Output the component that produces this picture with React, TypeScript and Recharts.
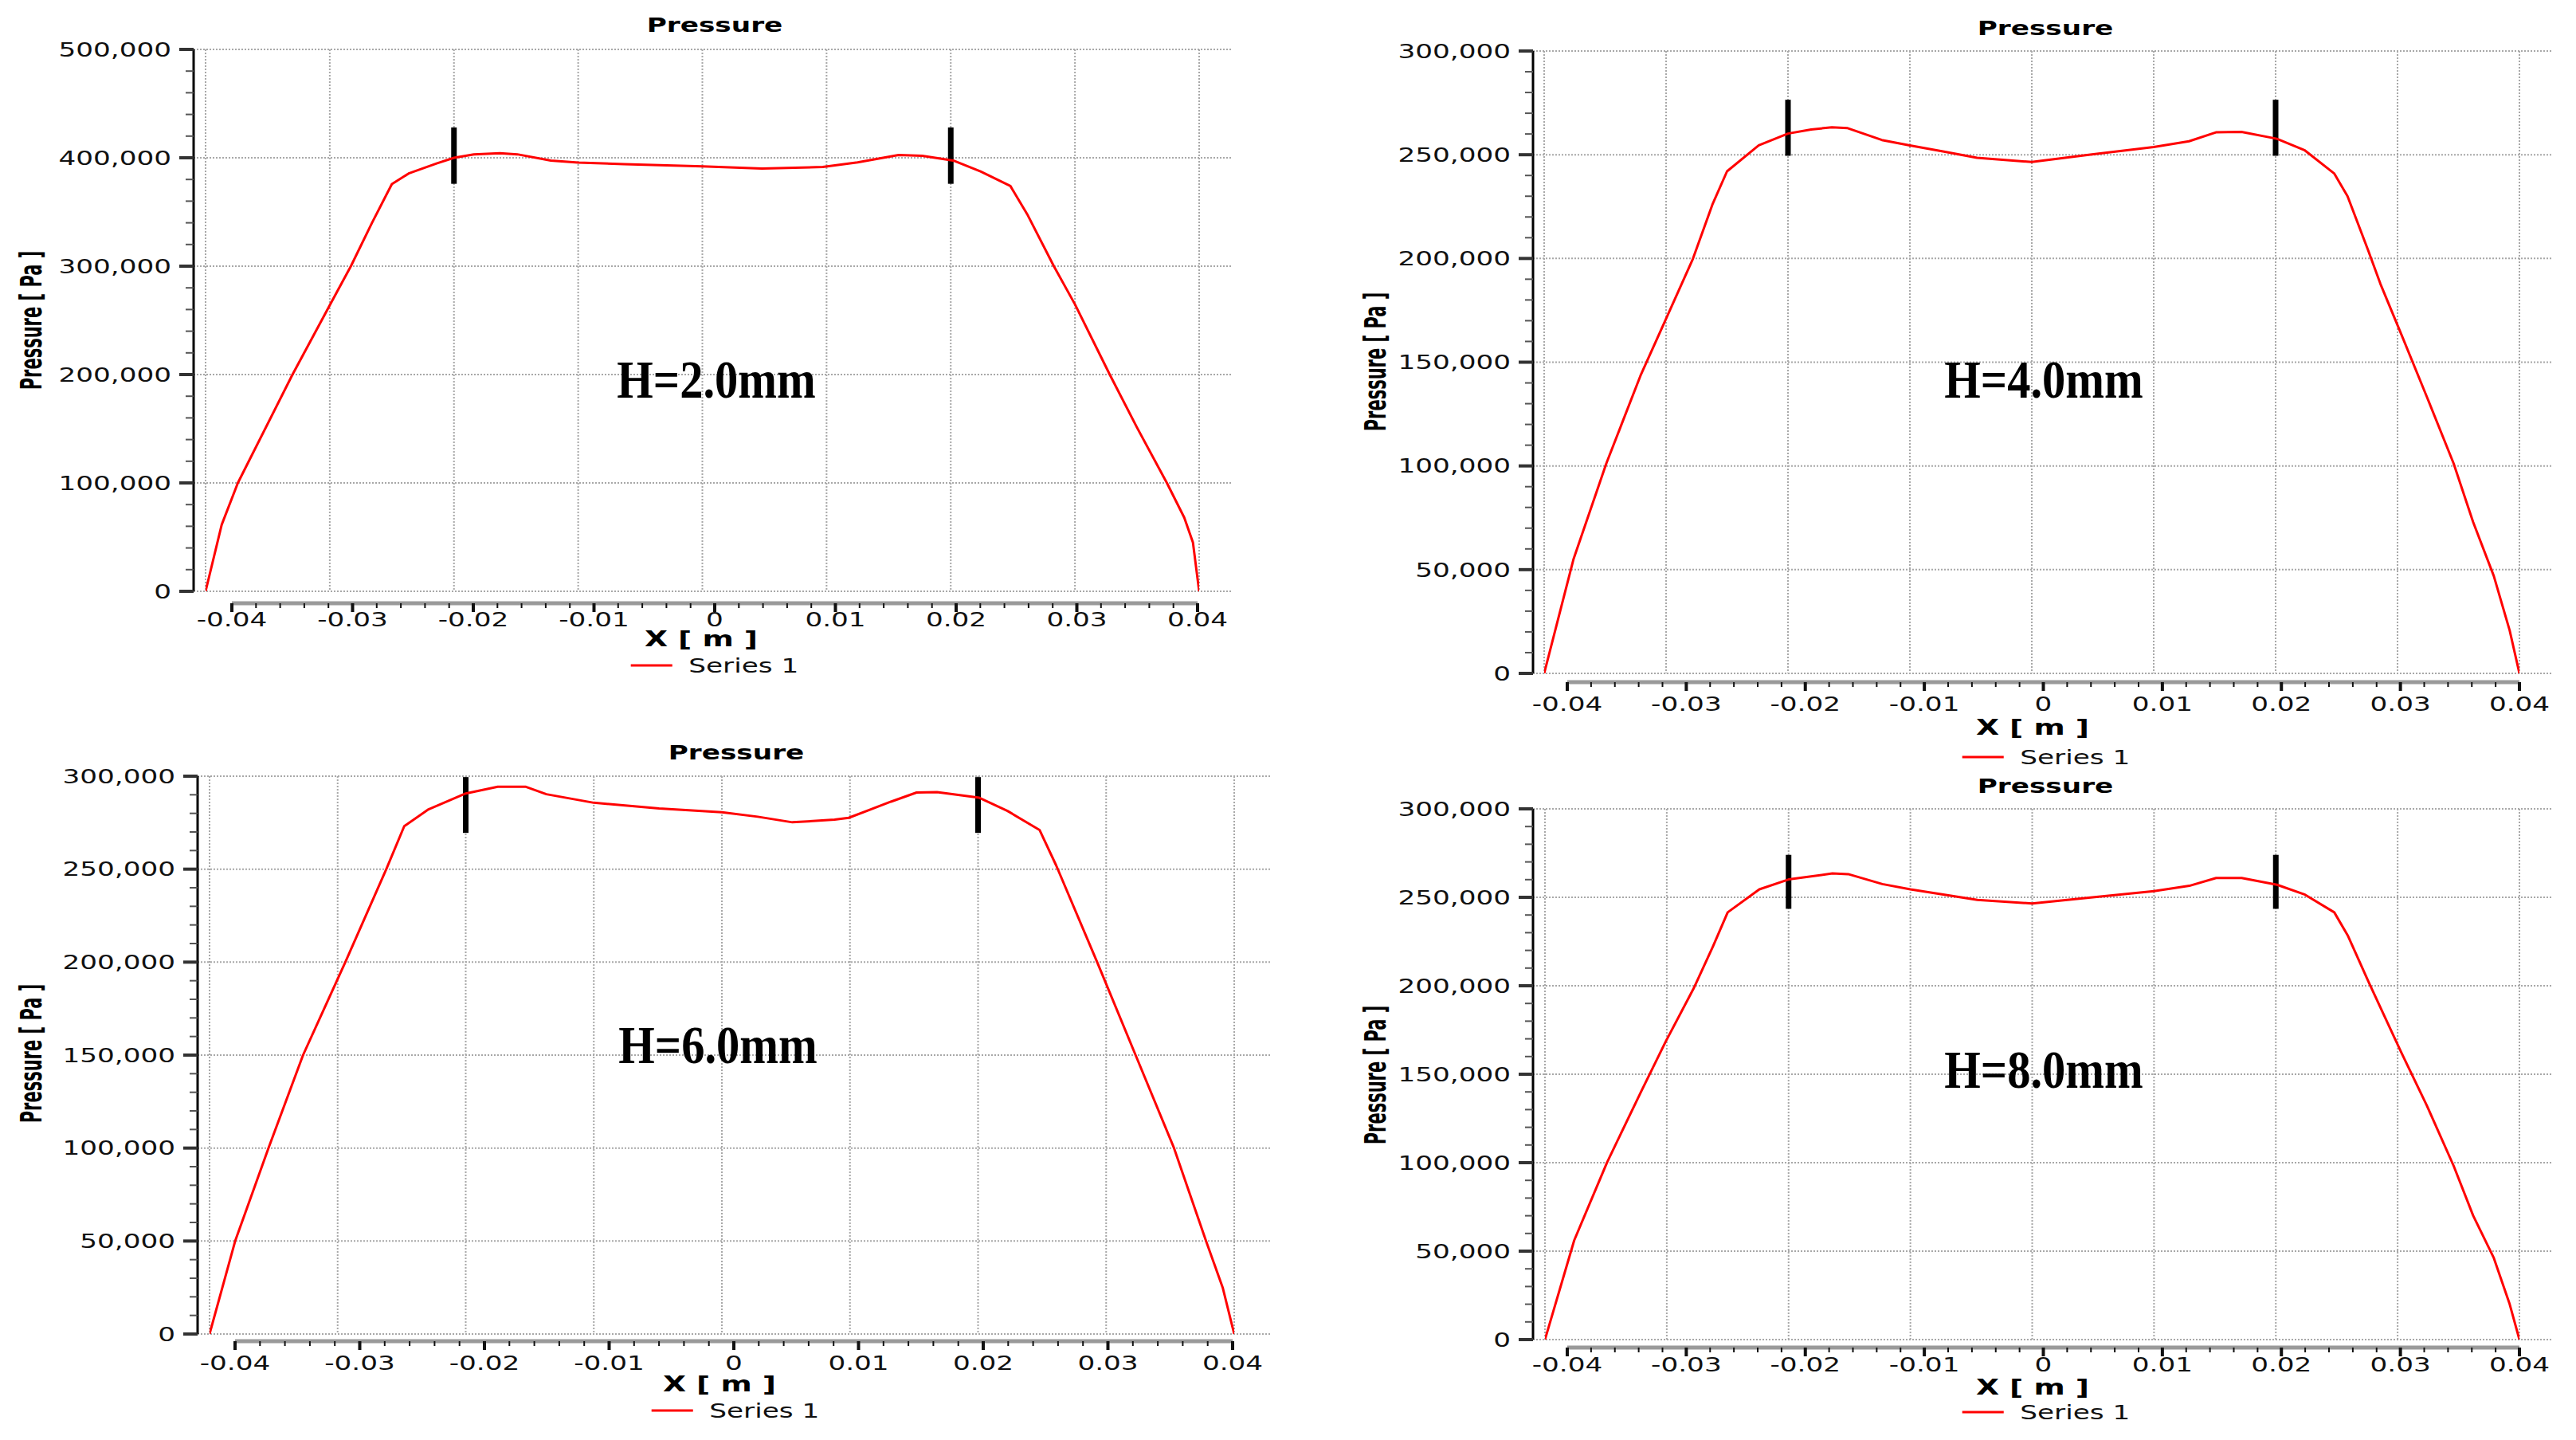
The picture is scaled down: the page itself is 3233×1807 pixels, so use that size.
import React from "react";
import { LineChart, Line, XAxis, YAxis, CartesianGrid, ReferenceLine, Legend } from "recharts";

const FONT = "'DejaVu Sans', Verdana, sans-serif";
// the source picture is stretched sideways, so the text is too
const SX = 1.37;

// x position [m] and pressure [Pa]
const xH2 = [-0.04, -0.0387, -0.0374, -0.033, -0.03, -0.0283, -0.0266, -0.025, -0.0236, -0.0214, -0.02, -0.0184, -0.0163, -0.0149, -0.0122, -0.01, -0.0063, 0, 0.0048, 0.0097, 0.0125, 0.0158, 0.0177, 0.0202, 0.0224, 0.0248, 0.0262, 0.0283, 0.03, 0.0328, 0.035, 0.0374, 0.0388, 0.0395, 0.04];
const pH2 = [0, 61500, 100000, 200000, 264000, 300000, 340000, 375700, 385800, 394800, 400000, 403200, 404200, 403200, 397500, 395500, 394200, 392100, 390100, 391500, 395800, 402600, 401900, 397500, 387400, 374000, 347000, 300000, 264800, 200000, 151000, 100000, 68000, 45000, 0];

const xH4 = [-0.04, -0.0376, -0.0349, -0.0321, -0.0301, -0.0278, -0.0262, -0.025, -0.0224, -0.02, -0.0181, -0.0164, -0.0151, -0.0123, -0.01, -0.0072, -0.0045, 0, 0.0048, 0.01, 0.0129, 0.0151, 0.0172, 0.0201, 0.0224, 0.0248, 0.0259, 0.0276, 0.0286, 0.0303, 0.0324, 0.0346, 0.0362, 0.0379, 0.0392, 0.04];
const pH4 = [0, 54900, 101200, 143500, 169600, 199800, 226000, 242000, 254500, 260200, 262200, 263200, 262800, 257100, 254500, 251500, 248500, 246500, 250100, 253700, 256500, 260800, 261000, 257700, 252100, 241000, 230000, 203800, 187700, 163600, 133400, 101200, 73000, 46900, 20700, 0];

const xH6 = [-0.04, -0.038, -0.0354, -0.0327, -0.0294, -0.0262, -0.0248, -0.0229, -0.02, -0.0175, -0.0153, -0.0137, -0.01, -0.0049, 0, 0.0028, 0.0055, 0.0088, 0.0099, 0.0132, 0.0152, 0.0168, 0.0201, 0.0223, 0.0248, 0.0261, 0.0293, 0.0323, 0.0353, 0.0378, 0.0391, 0.04];
const pH6 = [0, 50000, 100000, 150000, 200000, 250000, 273100, 282200, 290700, 294300, 294300, 290300, 285700, 282600, 280600, 278200, 275200, 276600, 277600, 286300, 291200, 291400, 288400, 281300, 271100, 252000, 200000, 150000, 100000, 50000, 25000, 0];

const xH8 = [-0.04, -0.0376, -0.0349, -0.0321, -0.0301, -0.0278, -0.0262, -0.025, -0.0224, -0.02, -0.0164, -0.0151, -0.0123, -0.01, -0.0045, 0, 0.0048, 0.01, 0.0129, 0.0151, 0.0172, 0.0201, 0.0224, 0.0248, 0.0259, 0.0276, 0.0303, 0.0324, 0.0346, 0.0362, 0.0379, 0.0392, 0.04];
const pH8 = [0, 56100, 100200, 140300, 168300, 198400, 222400, 241500, 254500, 260100, 263500, 263100, 257500, 254500, 248500, 246500, 249900, 253500, 256500, 260900, 260900, 257100, 251500, 241500, 228500, 202400, 162300, 132300, 98200, 70100, 46100, 20000, 0];

// axis ticks
const xMajor = [-0.04, -0.03, -0.02, -0.01, 0, 0.01, 0.02, 0.03, 0.04];
const yMajor500 = [0, 100000, 200000, 300000, 400000, 500000];
const yMajor300 = [0, 50000, 100000, 150000, 200000, 250000, 300000];

// black bars drawn over the curves at x = +/-0.02
const markerX = [-0.02, 0.02];
const barH2 = [376000, 428000];
const barH4 = [249500, 276500];
const barH6 = [269500, 299500];
const barH8 = [243500, 274000];

const subdivide = (major: number[], n: number) => {
  const out: number[] = [major[0]];
  for (let i = 1; i < major.length; i++) {
    for (let k = 1; k <= n; k++) {
      const v = major[i - 1] + ((major[i] - major[i - 1]) * k) / n;
      out.push(Math.round(v * 1e7) / 1e7);
    }
  }
  return out;
};

const isMajor = (majors: number[], v: number) => majors.some((m) => Math.abs(m - v) < Math.abs(m) * 1e-6 + 1e-9);

const YTick = (props: any) => {
  const { x, y, payload, majors } = props;
  const major = isMajor(majors, payload.value);
  return (
    <g>
      <line x1={x - (major ? 18 : 10)} x2={x} y1={y} y2={y} stroke={major ? "#333" : "#555"} strokeWidth={major ? 4 : 2} />
      {major && (
        <text transform={`translate(${x - 28},${y}) scale(${SX},1)`} textAnchor="end" dominantBaseline="central" fontSize={25} fontFamily={FONT} fill="#111">
          {payload.value.toLocaleString("en-US")}
        </text>
      )}
    </g>
  );
};

const XTick = (props: any) => {
  const { x, y, payload, labelDy } = props;
  const major = isMajor(xMajor, payload.value);
  return (
    <g>
      <line x1={x} x2={x} y1={y} y2={y + (major ? 11 : 6)} stroke="#111" strokeWidth={major ? 4 : 2} />
      {major && (
        <text transform={`translate(${x},${y + labelDy}) scale(${SX},1)`} textAnchor="middle" dominantBaseline="central" fontSize={25} fontFamily={FONT} fill="#111">
          {String(Number(payload.value.toFixed(2)))}
        </text>
      )}
    </g>
  );
};

const Txt = ({ at, style, children }: any) => (
  <div
    style={{
      position: "absolute",
      left: at[0],
      top: at[1],
      lineHeight: 1,
      whiteSpace: "nowrap",
      transform: `translate(-50%, -50%) ${style.extra || ""}`,
      fontFamily: style.fontFamily || FONT,
      fontSize: style.fontSize,
      fontWeight: style.fontWeight || "normal",
      color: "#000",
    }}
  >
    {children}
  </div>
);

type Spec = {
  xs: number[];
  ps: number[];
  yMajor: number[];
  bar: number[];
  note: string;
  box: number[];
  plotL: number;
  plotR: number;
  plotT: number;
  plotB: number;
  gridL: number;
  gridR: number;
  tickL: number;
  tickR: number;
  axisY: number;
  labelDy: number;
  titleAt: number[];
  xTitleAt: number[];
  legendAt: number[];
  yTitleAt: number[];
  noteAt: number[];
};

const AXIS_H = 40;

const Panel = ({ s }: { s: Spec }) => {
  const [bx, by, w, h] = s.box;
  const rows = s.xs.map((x, i) => ({ x, p: s.ps[i] }));
  const yMax = s.yMajor[s.yMajor.length - 1];
  const yAll = subdivide(s.yMajor, 5);
  const xAll = subdivide(xMajor, 5);
  const dash = `0 ${s.tickL - s.plotL} ${s.tickR - s.tickL} 99999`;

  const legendContent = (props: any) => {
    const item = (props.payload || [])[0];
    if (!item) return null;
    return (
      <div style={{ position: "relative", height: 32 }}>
        <div
          style={{
            position: "absolute",
            left: s.legendAt[0] - bx,
            top: 16,
            transform: `translate(-50%, -50%) scaleX(${SX})`,
            display: "flex",
            alignItems: "center",
            whiteSpace: "nowrap",
          }}
        >
          <span style={{ display: "inline-block", width: 38, height: 3, background: item.color, marginRight: 15 }} />
          <span style={{ fontFamily: FONT, fontSize: 25, color: "#111", lineHeight: 1 }}>{item.value}</span>
        </div>
      </div>
    );
  };

  return (
    <>
      <div style={{ position: "absolute", left: bx, top: by }}>
        <LineChart
          width={w}
          height={h}
          data={rows}
          margin={{ top: s.plotT - by, right: bx + w - s.plotR, bottom: by + h - s.axisY - AXIS_H, left: 0 }}
        >
          <CartesianGrid
            xAxisId="data"
            yAxisId="p"
            verticalValues={xMajor}
            horizontalValues={s.yMajor}
            syncWithTicks
            stroke="#a8a8a8"
            strokeWidth={2}
            strokeDasharray="2 2"
          />
          <XAxis
            xAxisId="data"
            dataKey="x"
            type="number"
            domain={[-0.04, 0.04]}
            allowDataOverflow
            padding={{ left: s.gridL - s.plotL, right: s.plotR - s.gridR }}
            height={s.axisY - s.plotB}
            ticks={xMajor}
            interval={0}
            tick={() => <g />}
            tickLine={false}
            axisLine={false}
          />
          <XAxis
            xAxisId="ticks"
            dataKey="x"
            type="number"
            domain={[-0.04, 0.04]}
            allowDataOverflow
            padding={{ left: s.tickL - s.plotL, right: s.plotR - s.tickR }}
            ticks={xAll}
            interval={0}
            height={AXIS_H}
            tickSize={0}
            tickMargin={0}
            tickLine={false}
            tick={(p: any) => <XTick {...p} labelDy={s.labelDy} />}
            axisLine={{ stroke: "#9a9a9a", strokeWidth: 5, strokeDasharray: dash }}
          />
          <YAxis
            yAxisId="p"
            type="number"
            domain={[0, yMax]}
            allowDataOverflow
            ticks={yAll}
            interval={0}
            width={s.plotL - bx}
            tickSize={0}
            tickMargin={0}
            tickLine={false}
            tick={(p: any) => <YTick {...p} majors={s.yMajor} />}
            axisLine={{ stroke: "#000", strokeWidth: 3 }}
          />
          {markerX.map((mx) => (
            <ReferenceLine
              key={mx}
              xAxisId="data"
              yAxisId="p"
              segment={[
                { x: mx, y: s.bar[0] },
                { x: mx, y: s.bar[1] },
              ]}
              stroke="#000"
              strokeWidth={7}
            />
          ))}
          <Line
            xAxisId="data"
            yAxisId="p"
            dataKey="p"
            name="Series 1"
            type="linear"
            stroke="#ff0000"
            strokeWidth={3}
            strokeLinejoin="round"
            dot={false}
            legendType="plainline"
            isAnimationActive={false}
          />
          <Legend
            layout="horizontal"
            verticalAlign="middle"
            align="center"
            content={legendContent}
            wrapperStyle={{ left: 0, top: s.legendAt[1] - by - 16, width: w, height: 32 }}
          />
        </LineChart>
      </div>
      <Txt at={s.titleAt} style={{ fontSize: 25, fontWeight: "bold", extra: `scaleX(${SX})` }}>Pressure</Txt>
      <Txt at={s.xTitleAt} style={{ fontSize: 26, fontWeight: "bold", extra: `scaleX(1.45)` }}>X [ m ]</Txt>
      <Txt at={s.yTitleAt} style={{ fontSize: 21, fontWeight: "bold", extra: `rotate(-90deg) scaleY(1.75)` }}>Pressure [ Pa ]</Txt>
      <Txt at={s.noteAt} style={{ fontSize: 68, fontWeight: "bold", fontFamily: "'Liberation Serif', 'Times New Roman', serif", extra: "scaleX(0.86)" }}>
        {s.note}
      </Txt>
    </>
  );
};

const panels: Spec[] = [
  {
    xs: xH2, ps: pH2, yMajor: yMajor500, bar: barH2, note: "H=2.0mm",
    box: [0, 0, 1620, 900], plotL: 243, plotR: 1547, plotT: 62, plotB: 742,
    gridL: 258, gridR: 1505, tickL: 291, tickR: 1503, axisY: 757, labelDy: 20,
    titleAt: [897, 31], xTitleAt: [880, 802], legendAt: [897, 835], yTitleAt: [41, 402], noteAt: [899, 476],
  },
  {
    xs: xH4, ps: pH4, yMajor: yMajor300, bar: barH4, note: "H=4.0mm",
    box: [1680, 0, 1553, 990], plotL: 1924, plotR: 3203, plotT: 64, plotB: 845,
    gridL: 1938, gridR: 3162, tickL: 1967, tickR: 3162, axisY: 856, labelDy: 27,
    titleAt: [2567, 35], xTitleAt: [2551, 913], legendAt: [2568, 950], yTitleAt: [1728, 454], noteAt: [2565, 476],
  },
  {
    xs: xH6, ps: pH6, yMajor: yMajor300, bar: barH6, note: "H=6.0mm",
    box: [0, 900, 1620, 907], plotL: 248, plotR: 1594, plotT: 974, plotB: 1674,
    gridL: 263, gridR: 1549, tickL: 295, tickR: 1547, axisY: 1683, labelDy: 27,
    titleAt: [924, 944], xTitleAt: [903, 1737], legendAt: [923, 1770], yTitleAt: [41, 1322], noteAt: [901, 1311],
  },
  {
    xs: xH8, ps: pH8, yMajor: yMajor300, bar: barH8, note: "H=8.0mm",
    box: [1680, 950, 1553, 857], plotL: 1924, plotR: 3203, plotT: 1015, plotB: 1681,
    gridL: 1939, gridR: 3162, tickL: 1967, tickR: 3162, axisY: 1691, labelDy: 21,
    titleAt: [2567, 986], xTitleAt: [2551, 1741], legendAt: [2568, 1772], yTitleAt: [1728, 1349], noteAt: [2565, 1342],
  },
];

export default function App() {
  return (
    <div style={{ position: "absolute", left: 0, top: 0, width: 3233, height: 1807, background: "#fff", overflow: "hidden" }}>
      {panels.map((s, i) => (
        <Panel key={i} s={s} />
      ))}
    </div>
  );
}
